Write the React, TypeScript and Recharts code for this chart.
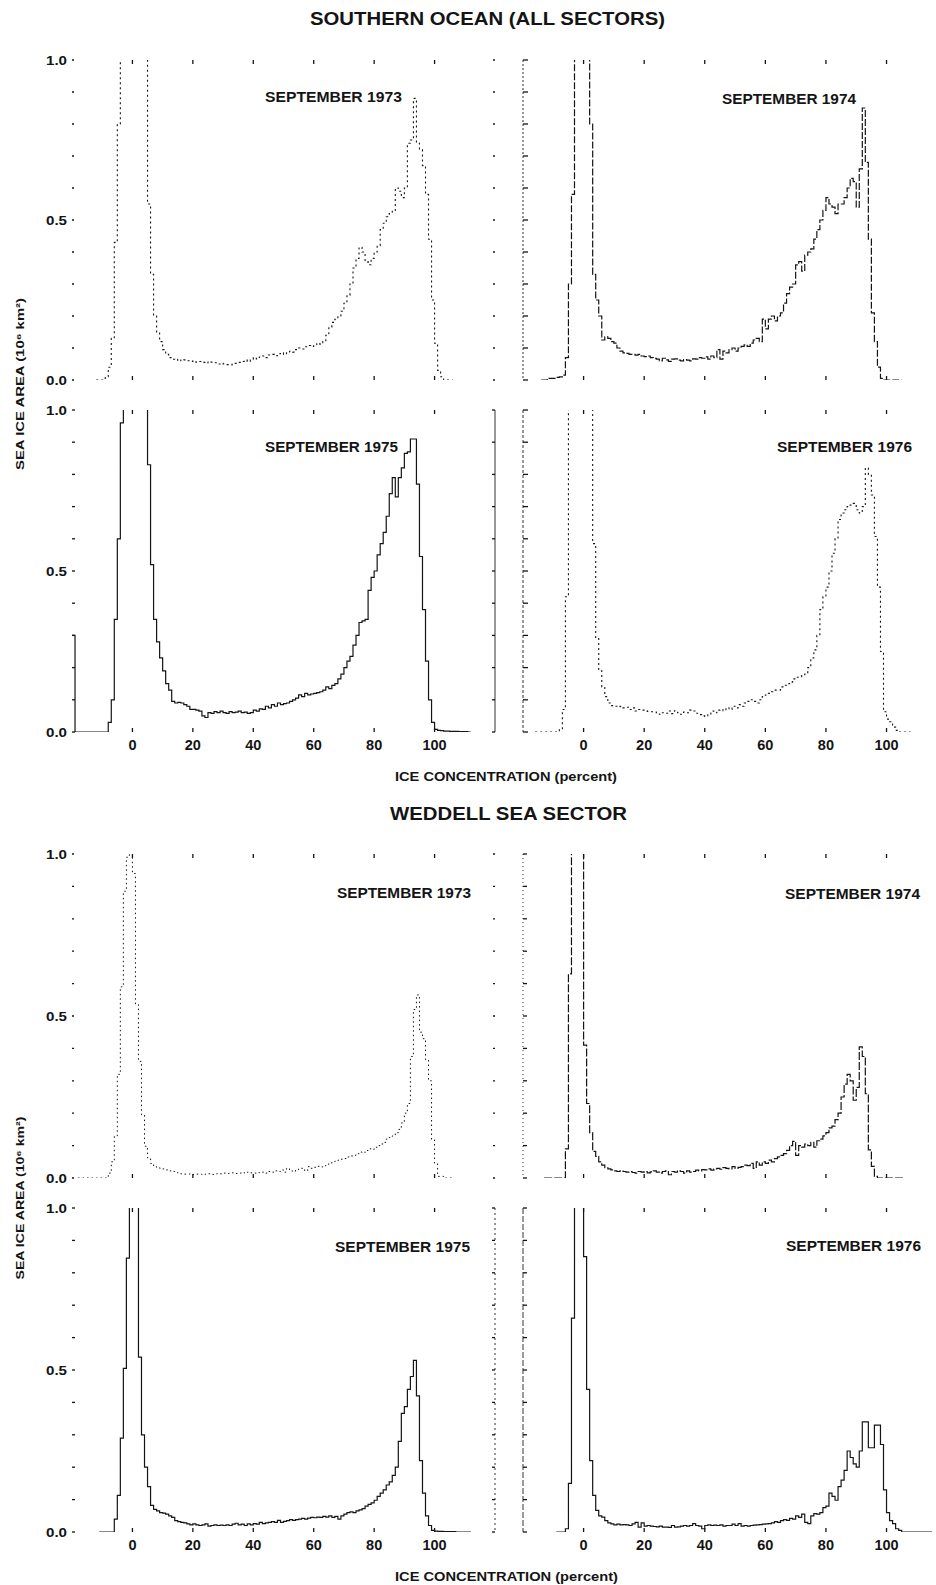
import React from 'react';
import { LineChart, Line, XAxis, YAxis } from 'recharts';

const FONT = '"Liberation Sans", Arial, Helvetica, sans-serif';
const INK = '#141414';

// ---- axis tick values ----
const xTickValues = [0, 20, 40, 60, 80, 100];
const yTickValues = [0, 0.1, 0.2, 0.3, 0.4, 0.5, 0.6, 0.7, 0.8, 0.9, 1];
const yLabelValues = [0, 0.5, 1];

// ---- SOUTHERN OCEAN (ALL SECTORS) : sea ice area (10^6 km^2) per 1% concentration bin ----
const so1973Start = -12;
const so1973 = [
  0, 0, 0, 0.01, 0.04, 0.13, 0.43, 0.8, 1.3, 1.5,
  1.6, 1.6, 1.6, 1.5, 1.4, 1.2, 1.05, 0.55, 0.33, 0.2,
  0.15, 0.12, 0.095, 0.08, 0.07, 0.065, 0.062, 0.065, 0.06, 0.063,
  0.06, 0.058, 0.06, 0.056, 0.058, 0.055, 0.057, 0.053, 0.056, 0.054,
  0.05, 0.052, 0.05, 0.048, 0.047, 0.05, 0.052, 0.055, 0.058, 0.062,
  0.058, 0.065, 0.07, 0.066, 0.072, 0.075, 0.07, 0.078, 0.08, 0.076,
  0.082, 0.085, 0.08, 0.088, 0.09, 0.087, 0.095, 0.1, 0.097, 0.104,
  0.108, 0.105, 0.11, 0.115, 0.112, 0.12, 0.14, 0.165, 0.18, 0.19,
  0.2, 0.215, 0.24, 0.265, 0.3, 0.35, 0.38, 0.415, 0.4, 0.37,
  0.36, 0.38, 0.4, 0.42, 0.47, 0.49, 0.51, 0.52, 0.53, 0.6,
  0.59, 0.57, 0.6, 0.74, 0.75, 0.88, 0.74, 0.72, 0.67, 0.58,
  0.44, 0.25, 0.115, 0.03, 0.01, 0, 0, 0, 0,
];

const so1974Start = -14;
const so1974 = [
  0, 0, 0.005, 0.005, 0.005, 0.008, 0.01, 0.015, 0.07, 0.3,
  0.58, 1.3, 1.5, 1.6, 1.6, 1.5, 0.8, 0.33, 0.25, 0.2,
  0.125, 0.135, 0.13, 0.12, 0.115, 0.1, 0.09, 0.085, 0.083, 0.08,
  0.08, 0.078, 0.08, 0.075, 0.073, 0.075, 0.07, 0.068, 0.065, 0.06,
  0.068, 0.063, 0.058, 0.065, 0.066, 0.062, 0.06, 0.064, 0.062, 0.06,
  0.066, 0.065, 0.07, 0.068, 0.072, 0.065, 0.075, 0.07, 0.095, 0.065,
  0.09, 0.085, 0.095, 0.1, 0.09, 0.1, 0.105, 0.11, 0.105, 0.115,
  0.125, 0.13, 0.12, 0.19, 0.16, 0.19, 0.2, 0.185, 0.2, 0.21,
  0.24, 0.27, 0.29, 0.3, 0.36, 0.37, 0.34, 0.39, 0.4, 0.41,
  0.44, 0.47, 0.5, 0.53, 0.57, 0.55, 0.54, 0.52, 0.55, 0.55,
  0.57, 0.6, 0.63, 0.62, 0.54, 0.66, 0.85, 0.68, 0.44, 0.21,
  0.12, 0.04, 0.005, 0, 0, 0, 0, 0, 0, 0,
];

const so1975Start = -20;
const so1975 = [
  0.3, 0, 0, 0, 0, 0, 0, 0, 0, 0,
  0, 0, 0.03, 0.1, 0.35, 0.6, 0.96, 1.3, 1.5, 1.6,
  1.6, 1.6, 1.5, 1.5, 1.4, 0.83, 0.52, 0.35, 0.28, 0.23,
  0.19, 0.15, 0.13, 0.095, 0.09, 0.092, 0.09, 0.085, 0.08, 0.07,
  0.07, 0.068, 0.065, 0.05, 0.045, 0.06, 0.058, 0.063, 0.06, 0.065,
  0.06, 0.058, 0.063, 0.06, 0.062, 0.065, 0.06, 0.062, 0.058, 0.06,
  0.068, 0.065, 0.072, 0.07, 0.08, 0.075, 0.085, 0.08, 0.09, 0.085,
  0.088, 0.09, 0.095, 0.1, 0.105, 0.115, 0.11, 0.12, 0.115, 0.118,
  0.12, 0.122, 0.125, 0.13, 0.14, 0.135, 0.145, 0.15, 0.165, 0.18,
  0.2, 0.22, 0.235, 0.27, 0.3, 0.34, 0.345, 0.35, 0.44, 0.48,
  0.5, 0.55, 0.585, 0.62, 0.67, 0.74, 0.79, 0.73, 0.79, 0.82,
  0.865, 0.87, 0.91, 0.91, 0.77, 0.545, 0.38, 0.22, 0.1, 0.03,
  0.008, 0.005, 0.004, 0.003, 0.003, 0.002, 0.002, 0.002, 0.001, 0.001, 0.001, 0, 0,
];

const so1976Start = -16;
const so1976 = [
  0, 0, 0, 0, 0, 0, 0, 0, 0.01, 0.07,
  0.42, 1.3, 1.5, 1.6, 1.6, 1.6, 1.6, 1.5, 1.4, 0.585,
  0.29, 0.19, 0.14, 0.11, 0.09, 0.082, 0.08, 0.078, 0.08, 0.075,
  0.077, 0.07, 0.075, 0.065, 0.07, 0.068, 0.066, 0.064, 0.063, 0.062,
  0.06, 0.055, 0.06, 0.058, 0.065, 0.057, 0.066, 0.06, 0.055, 0.062,
  0.06, 0.068, 0.065, 0.058, 0.054, 0.05, 0.048, 0.055, 0.065, 0.06,
  0.068, 0.07, 0.066, 0.075, 0.07, 0.08, 0.075, 0.085, 0.08, 0.09,
  0.095, 0.1, 0.095, 0.09, 0.1, 0.11, 0.115, 0.12, 0.125, 0.13,
  0.13, 0.14, 0.145, 0.15, 0.155, 0.165, 0.17, 0.17, 0.175, 0.18,
  0.2, 0.23, 0.255, 0.3, 0.38, 0.42, 0.45, 0.5, 0.555, 0.6,
  0.66, 0.68, 0.69, 0.7, 0.705, 0.71, 0.69, 0.68, 0.7, 0.82,
  0.8, 0.736, 0.607, 0.45, 0.25, 0.063, 0.04, 0.032, 0.015, 0.005,
  0, 0, 0, 0, 0,
];

// ---- WEDDELL SEA SECTOR ----
const wd1973Start = -18;
const wd1973 = [
  0, 0, 0, 0, 0, 0, 0, 0, 0, 0,
  0.015, 0.05, 0.13, 0.32, 0.59, 0.885, 0.99, 1.05, 0.94, 0.535,
  0.36, 0.195, 0.098, 0.062, 0.045, 0.035, 0.032, 0.03, 0.028, 0.025,
  0.022, 0.02, 0.018, 0.015, 0.013, 0.012, 0.012, 0.013, 0.011, 0.012,
  0.012, 0.01, 0.012, 0.013, 0.011, 0.012, 0.014, 0.013, 0.015, 0.014,
  0.015, 0.016, 0.014, 0.015, 0.017, 0.015, 0.018, 0.016, 0.015, 0.017,
  0.016, 0.018, 0.015, 0.02, 0.018, 0.022, 0.02, 0.025, 0.018, 0.03,
  0.022, 0.02, 0.025, 0.028, 0.03, 0.022, 0.035, 0.03, 0.033, 0.036,
  0.034, 0.038, 0.042, 0.045, 0.05, 0.052, 0.055, 0.058, 0.06, 0.065,
  0.068, 0.07, 0.075, 0.08, 0.078, 0.085, 0.09, 0.088, 0.095, 0.1,
  0.105, 0.11, 0.12, 0.125, 0.13, 0.14, 0.15, 0.17, 0.2, 0.23,
  0.375, 0.52, 0.565, 0.45, 0.43, 0.365, 0.3, 0.118, 0.046, 0.005,
  0.005, 0, 0, 0, 0,
];

const wd1974Start = -13;
const wd1974 = [
  0, 0, 0, 0, 0, 0, 0, 0.09, 0.63, 1.3,
  1.4, 1.3, 1.1, 0.41, 0.23, 0.14, 0.082, 0.067, 0.05, 0.04,
  0.032, 0.028, 0.025, 0.022, 0.02, 0.022, 0.02, 0.018, 0.02, 0.017,
  0.015, 0.02, 0.018, 0.02, 0.016, 0.019, 0.022, 0.018, 0.015, 0.02,
  0.022, 0.01, 0.02, 0.018, 0.022, 0.02, 0.015, 0.022, 0.018, 0.02,
  0.024, 0.022, 0.026, 0.025, 0.028, 0.024, 0.028, 0.03, 0.027, 0.032,
  0.03, 0.028, 0.035, 0.03, 0.033, 0.035, 0.04, 0.038, 0.045, 0.03,
  0.05, 0.04, 0.05, 0.045, 0.055, 0.05, 0.06, 0.065, 0.07, 0.075,
  0.085, 0.1, 0.113, 0.07, 0.1, 0.095, 0.105, 0.1, 0.11, 0.095,
  0.115, 0.12, 0.13, 0.14, 0.155, 0.16, 0.18, 0.2, 0.25, 0.29,
  0.32, 0.3, 0.24, 0.28, 0.405, 0.375, 0.26, 0.087, 0.036, 0.005,
  0, 0, 0, 0, 0, 0, 0, 0, 0, 0,
];

const wd1975Start = -11;
const wd1975 = [
  0, 0, 0, 0, 0, 0.04, 0.113, 0.29, 0.505, 0.845,
  1.2, 1.3, 1.2, 0.54, 0.3, 0.2, 0.14, 0.082, 0.07, 0.065,
  0.06, 0.058, 0.055, 0.05, 0.045, 0.035, 0.032, 0.03, 0.028, 0.025,
  0.022, 0.025, 0.022, 0.02, 0.022, 0.025, 0.018, 0.02, 0.022, 0.02,
  0.021, 0.02, 0.022, 0.02, 0.024, 0.027, 0.022, 0.024, 0.02, 0.025,
  0.022, 0.026, 0.024, 0.03, 0.026, 0.028, 0.03, 0.032, 0.03, 0.036,
  0.03, 0.033, 0.035, 0.038, 0.036, 0.038, 0.04, 0.042, 0.04, 0.043,
  0.045, 0.044, 0.046, 0.045, 0.048, 0.046, 0.05, 0.045, 0.048, 0.04,
  0.05, 0.055, 0.06, 0.062, 0.06, 0.065, 0.068, 0.072, 0.08, 0.085,
  0.09, 0.098, 0.11, 0.12, 0.13, 0.145, 0.155, 0.175, 0.2, 0.28,
  0.366, 0.387, 0.44, 0.48, 0.53, 0.42, 0.22, 0.12, 0.05, 0.02,
  0.005, 0.003, 0.002, 0.002, 0.001, 0.001, 0.001, 0.001, 0, 0, 0, 0, 0, 0,
];

const wd1976Start = -9;
const wd1976 = [
  0, 0, 0, 0.01, 0.15, 0.66, 1.3, 1.4, 1.3, 0.85,
  0.44, 0.22, 0.113, 0.067, 0.05, 0.046, 0.035, 0.028, 0.025, 0.022,
  0.024, 0.022, 0.023, 0.022, 0.02, 0.025, 0.03, 0.015, 0.028, 0.018,
  0.02, 0.018, 0.017, 0.016, 0.018, 0.015, 0.015, 0.014, 0.02, 0.015,
  0.016, 0.018, 0.02, 0.018, 0.02, 0.026, 0.02, 0.018, 0.01, 0.02,
  0.022, 0.02, 0.021, 0.02, 0.022, 0.018, 0.02, 0.02, 0.024, 0.02,
  0.026, 0.018, 0.02, 0.018, 0.02, 0.021, 0.022, 0.023, 0.024, 0.025,
  0.026, 0.028, 0.032, 0.03, 0.035, 0.038, 0.036, 0.042, 0.04, 0.05,
  0.045, 0.055, 0.03, 0.026, 0.05, 0.057, 0.055, 0.06, 0.075, 0.08,
  0.12, 0.11, 0.098, 0.14, 0.16, 0.19, 0.25, 0.23, 0.21, 0.2,
  0.25, 0.34, 0.34, 0.26, 0.26, 0.33, 0.33, 0.27, 0.13, 0.06,
  0.035, 0.026, 0.01, 0.005, 0, 0, 0, 0, 0, 0, 0, 0, 0, 0, 0,
];

type Pt = { x: number; y: number };
const toSeries = (start: number, vals: number[]): Pt[] => vals.map((v, i) => ({ x: start + i, y: v }));

// ---- custom ticks (positions come from the axes) ----
const BottomTick = (props: any) => {
  const { x, y, payload, showLabel } = props;
  return (
    <g>
      <line x1={x} x2={x} y1={y} y2={y - 4} stroke={INK} strokeWidth={1.3} />
      {showLabel ? (
        <text x={x} y={y + 18} textAnchor="middle" fontFamily={FONT} fontSize={14.5} fontWeight="bold" fill={INK}>
          {payload.value}
        </text>
      ) : null}
    </g>
  );
};

const TopTick = (props: any) => {
  const { x, y } = props;
  return <line x1={x} x2={x} y1={y} y2={y + 4} stroke={INK} strokeWidth={1.3} />;
};

const LeftTick = (props: any) => {
  const { x, y, payload, len, showLabel } = props;
  const v = payload.value as number;
  const lab = showLabel && yLabelValues.some((u) => Math.abs(u - v) < 1e-6);
  return (
    <g>
      <line x1={x} x2={x + len} y1={y} y2={y} stroke={INK} strokeWidth={1.3} />
      {lab ? (
        <text x={x - 5} y={y + 4.5} textAnchor="end" fontFamily={FONT} fontSize={12} fontWeight="bold" fill={INK} textLength={21} lengthAdjust="spacingAndGlyphs">
          {v.toFixed(1)}
        </text>
      ) : null}
    </g>
  );
};

const RightTick = (props: any) => {
  const { x, y, len } = props;
  return <line x1={x - len} x2={x} y1={y} y2={y} stroke={INK} strokeWidth={1.3} />;
};

type Layout = {
  data: Pt[];
  left: number;
  top: number;
  width: number;
  height: number;
  xMax: number;
  xLabels: boolean;
  yLabels: boolean;
  leftTick: number;
  leftLine: string | null;
  rightTick: number;
  rightLine: string | null;
  dash?: string;
  sw: number;
};

// outer space around the plot area (axes themselves are 1px thick bands)
const ML = 44;
const MR = 14;
const MT = 8;
const MB = 28;

function Panel(p: Layout) {
  const w = p.width + ML + MR;
  const h = p.height + MT + MB;
  return (
    <div style={{ position: 'absolute', left: p.left - ML, top: p.top - MT, width: w, height: h }}>
      <LineChart width={w} height={h} data={p.data} margin={{ top: MT - 1, right: MR - 1, bottom: MB - 1, left: ML - 1 }}>
        <XAxis
          xAxisId="b"
          dataKey="x"
          type="number"
          domain={[-20, p.xMax]}
          allowDataOverflow
          ticks={xTickValues}
          interval={0}
          height={1}
          tickSize={0}
          tickMargin={0}
          axisLine={false}
          tickLine={false}
          tick={(t: any) => <BottomTick {...t} showLabel={p.xLabels} />}
        />
        <XAxis
          xAxisId="t"
          orientation="top"
          dataKey="x"
          type="number"
          domain={[-20, p.xMax]}
          allowDataOverflow
          ticks={xTickValues}
          interval={0}
          height={1}
          tickSize={0}
          tickMargin={0}
          axisLine={false}
          tickLine={false}
          tick={(t: any) => <TopTick {...t} />}
        />
        <YAxis
          yAxisId="l"
          type="number"
          domain={[0, 1]}
          allowDataOverflow
          ticks={yTickValues}
          interval={0}
          width={1}
          tickSize={0}
          tickMargin={0}
          axisLine={p.leftLine ? { stroke: '#333', strokeWidth: 1, strokeDasharray: p.leftLine } : false}
          tickLine={false}
          tick={(t: any) => <LeftTick {...t} len={p.leftTick} showLabel={p.yLabels} />}
        />
        <YAxis
          yAxisId="r"
          orientation="right"
          type="number"
          domain={[0, 1]}
          allowDataOverflow
          ticks={yTickValues}
          interval={0}
          width={1}
          tickSize={0}
          tickMargin={0}
          axisLine={p.rightLine ? { stroke: '#333', strokeWidth: 1, strokeDasharray: p.rightLine } : false}
          tickLine={false}
          tick={p.rightTick > 0 ? (t: any) => <RightTick {...t} len={p.rightTick} /> : false}
        />
        <Line
          xAxisId="b"
          yAxisId="l"
          type="stepAfter"
          dataKey="y"
          stroke={INK}
          strokeWidth={p.sw}
          strokeDasharray={p.dash}
          dot={false}
          activeDot={false}
          isAnimationActive={false}
        />
        <Line
          xAxisId="t"
          yAxisId="r"
          type="stepAfter"
          dataKey="y"
          stroke="none"
          dot={false}
          activeDot={false}
          isAnimationActive={false}
        />
      </LineChart>
    </div>
  );
}

const panels: Layout[] = [
  { data: toSeries(so1973Start, so1973), left: 72, top: 60, width: 423, height: 320, xMax: 120, xLabels: false, yLabels: true, leftTick: 2, leftLine: null, rightTick: 2, rightLine: null, dash: '2 3', sw: 1.1 },
  { data: toSeries(so1974Start, so1974), left: 523, top: 60, width: 412, height: 320, xMax: 116, xLabels: false, yLabels: false, leftTick: 5, leftLine: '2 2', rightTick: 0, rightLine: null, dash: '7 2', sw: 1.2 },
  { data: toSeries(so1975Start, so1975), left: 72, top: 410, width: 423, height: 322, xMax: 120, xLabels: true, yLabels: true, leftTick: 3, leftLine: null, rightTick: 3, rightLine: '0', sw: 1.2 },
  { data: toSeries(so1976Start, so1976), left: 523, top: 410, width: 412, height: 322, xMax: 116, xLabels: true, yLabels: false, leftTick: 5, leftLine: '3 2', rightTick: 0, rightLine: null, dash: '2 3', sw: 1.1 },
  { data: toSeries(wd1973Start, wd1973), left: 72, top: 854, width: 423, height: 324, xMax: 120, xLabels: false, yLabels: true, leftTick: 2, leftLine: null, rightTick: 2, rightLine: null, dash: '1.5 3', sw: 1.0 },
  { data: toSeries(wd1974Start, wd1974), left: 523, top: 854, width: 412, height: 324, xMax: 116, xLabels: false, yLabels: false, leftTick: 4, leftLine: '1 3', rightTick: 0, rightLine: null, dash: '8 2', sw: 1.2 },
  { data: toSeries(wd1975Start, wd1975), left: 72, top: 1208, width: 423, height: 324, xMax: 120, xLabels: true, yLabels: true, leftTick: 3, leftLine: null, rightTick: 3, rightLine: '2 3', sw: 1.2 },
  { data: toSeries(wd1976Start, wd1976), left: 523, top: 1208, width: 412, height: 324, xMax: 116, xLabels: true, yLabels: false, leftTick: 4, leftLine: '6 2', rightTick: 0, rightLine: null, sw: 1.2 },
];

const panelTitles = [
  { text: 'SEPTEMBER 1973', x: 265, y: 102, len: 137 },
  { text: 'SEPTEMBER 1974', x: 722, y: 104, len: 134 },
  { text: 'SEPTEMBER 1975', x: 265, y: 452, len: 133 },
  { text: 'SEPTEMBER 1976', x: 777, y: 452, len: 135 },
  { text: 'SEPTEMBER 1973', x: 337, y: 898, len: 134 },
  { text: 'SEPTEMBER 1974', x: 785, y: 899, len: 135 },
  { text: 'SEPTEMBER 1975', x: 335, y: 1252, len: 135 },
  { text: 'SEPTEMBER 1976', x: 786, y: 1251, len: 135 },
];

export default function App() {
  return (
    <div style={{ position: 'absolute', left: 0, top: 0, width: 936, height: 1585, overflow: 'hidden', background: '#fff' }}>
      {panels.map((p, i) => (
        <Panel key={i} {...p} />
      ))}
      <svg width={936} height={1585} style={{ position: 'absolute', left: 0, top: 0, pointerEvents: 'none' }}>
        <g fontFamily={FONT} fill={INK} fontWeight="bold">
          <text x={310} y={25} fontSize={18} textLength={355} lengthAdjust="spacingAndGlyphs">SOUTHERN OCEAN (ALL SECTORS)</text>
          <text x={390} y={820} fontSize={18} textLength={237} lengthAdjust="spacingAndGlyphs">WEDDELL SEA SECTOR</text>
          <text x={395} y={781} fontSize={12.5} textLength={222} lengthAdjust="spacingAndGlyphs">ICE CONCENTRATION (percent)</text>
          <text x={395} y={1581} fontSize={12.5} textLength={223} lengthAdjust="spacingAndGlyphs">ICE CONCENTRATION (percent)</text>
          <text transform="translate(24, 384) rotate(-90)" textAnchor="middle" fontSize={11} textLength={172} lengthAdjust="spacingAndGlyphs">SEA ICE AREA (10⁶ km²)</text>
          <text transform="translate(24, 1198) rotate(-90)" textAnchor="middle" fontSize={11} textLength={163} lengthAdjust="spacingAndGlyphs">SEA ICE AREA (10⁶ km²)</text>
          {panelTitles.map((t, i) => (
            <text key={i} x={t.x} y={t.y} fontSize={14} textLength={t.len} lengthAdjust="spacingAndGlyphs">{t.text}</text>
          ))}
        </g>
      </svg>
    </div>
  );
}
